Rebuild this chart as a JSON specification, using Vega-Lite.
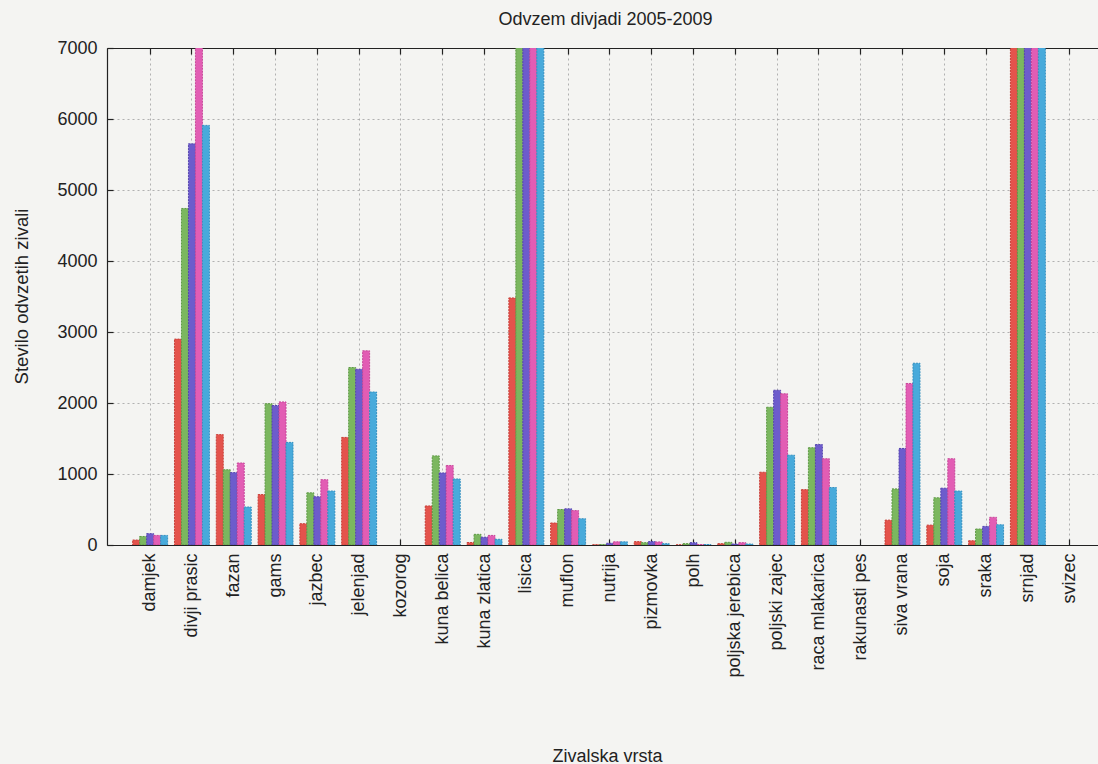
{
  "$schema": "https://vega.github.io/schema/vega-lite/v6.json",
  "width": 991,
  "height": 497,
  "autosize": {"type": "none"},
  "padding": {"left": 107, "top": 48, "right": 0, "bottom": 219},
  "background": "#f4f4f2",
  "title": {"text": "Odvzem divjadi 2005-2009", "fontSize": 18, "fontWeight": "normal", "font": "Liberation Sans", "color": "#222222", "offset": 10, "anchor": "middle", "dx": 3},
  "config": {
    "view": {"stroke": null},
    "font": "Liberation Sans"
  },
  "data": {
    "values": [
      {"vrsta": "damjek", "leto": "2005", "stevilo": 70},
      {"vrsta": "damjek", "leto": "2006", "stevilo": 120},
      {"vrsta": "damjek", "leto": "2007", "stevilo": 160},
      {"vrsta": "damjek", "leto": "2008", "stevilo": 135},
      {"vrsta": "damjek", "leto": "2009", "stevilo": 135},
      {"vrsta": "divji prasic", "leto": "2005", "stevilo": 2900},
      {"vrsta": "divji prasic", "leto": "2006", "stevilo": 4740},
      {"vrsta": "divji prasic", "leto": "2007", "stevilo": 5650},
      {"vrsta": "divji prasic", "leto": "2008", "stevilo": 7300},
      {"vrsta": "divji prasic", "leto": "2009", "stevilo": 5910},
      {"vrsta": "fazan", "leto": "2005", "stevilo": 1555},
      {"vrsta": "fazan", "leto": "2006", "stevilo": 1060},
      {"vrsta": "fazan", "leto": "2007", "stevilo": 1020},
      {"vrsta": "fazan", "leto": "2008", "stevilo": 1155},
      {"vrsta": "fazan", "leto": "2009", "stevilo": 535},
      {"vrsta": "gams", "leto": "2005", "stevilo": 710},
      {"vrsta": "gams", "leto": "2006", "stevilo": 1990},
      {"vrsta": "gams", "leto": "2007", "stevilo": 1965},
      {"vrsta": "gams", "leto": "2008", "stevilo": 2015},
      {"vrsta": "gams", "leto": "2009", "stevilo": 1445},
      {"vrsta": "jazbec", "leto": "2005", "stevilo": 300},
      {"vrsta": "jazbec", "leto": "2006", "stevilo": 735},
      {"vrsta": "jazbec", "leto": "2007", "stevilo": 680},
      {"vrsta": "jazbec", "leto": "2008", "stevilo": 920},
      {"vrsta": "jazbec", "leto": "2009", "stevilo": 760},
      {"vrsta": "jelenjad", "leto": "2005", "stevilo": 1515},
      {"vrsta": "jelenjad", "leto": "2006", "stevilo": 2500},
      {"vrsta": "jelenjad", "leto": "2007", "stevilo": 2475},
      {"vrsta": "jelenjad", "leto": "2008", "stevilo": 2735},
      {"vrsta": "jelenjad", "leto": "2009", "stevilo": 2155},
      {"vrsta": "kuna belica", "leto": "2005", "stevilo": 550},
      {"vrsta": "kuna belica", "leto": "2006", "stevilo": 1255},
      {"vrsta": "kuna belica", "leto": "2007", "stevilo": 1015},
      {"vrsta": "kuna belica", "leto": "2008", "stevilo": 1120},
      {"vrsta": "kuna belica", "leto": "2009", "stevilo": 930},
      {"vrsta": "kuna zlatica", "leto": "2005", "stevilo": 35},
      {"vrsta": "kuna zlatica", "leto": "2006", "stevilo": 150},
      {"vrsta": "kuna zlatica", "leto": "2007", "stevilo": 110},
      {"vrsta": "kuna zlatica", "leto": "2008", "stevilo": 135},
      {"vrsta": "kuna zlatica", "leto": "2009", "stevilo": 80},
      {"vrsta": "lisica", "leto": "2005", "stevilo": 3480},
      {"vrsta": "lisica", "leto": "2006", "stevilo": 7600},
      {"vrsta": "lisica", "leto": "2007", "stevilo": 8100},
      {"vrsta": "lisica", "leto": "2008", "stevilo": 8400},
      {"vrsta": "lisica", "leto": "2009", "stevilo": 8000},
      {"vrsta": "muflon", "leto": "2005", "stevilo": 310},
      {"vrsta": "muflon", "leto": "2006", "stevilo": 500},
      {"vrsta": "muflon", "leto": "2007", "stevilo": 510},
      {"vrsta": "muflon", "leto": "2008", "stevilo": 485},
      {"vrsta": "muflon", "leto": "2009", "stevilo": 370},
      {"vrsta": "nutrija", "leto": "2005", "stevilo": 3},
      {"vrsta": "nutrija", "leto": "2006", "stevilo": 5},
      {"vrsta": "nutrija", "leto": "2007", "stevilo": 25},
      {"vrsta": "nutrija", "leto": "2008", "stevilo": 45},
      {"vrsta": "nutrija", "leto": "2009", "stevilo": 45},
      {"vrsta": "pizmovka", "leto": "2005", "stevilo": 48},
      {"vrsta": "pizmovka", "leto": "2006", "stevilo": 33},
      {"vrsta": "pizmovka", "leto": "2007", "stevilo": 48},
      {"vrsta": "pizmovka", "leto": "2008", "stevilo": 43},
      {"vrsta": "pizmovka", "leto": "2009", "stevilo": 19},
      {"vrsta": "polh", "leto": "2005", "stevilo": 2},
      {"vrsta": "polh", "leto": "2006", "stevilo": 19},
      {"vrsta": "polh", "leto": "2007", "stevilo": 33},
      {"vrsta": "polh", "leto": "2008", "stevilo": 6},
      {"vrsta": "polh", "leto": "2009", "stevilo": 6},
      {"vrsta": "poljska jerebica", "leto": "2005", "stevilo": 19},
      {"vrsta": "poljska jerebica", "leto": "2006", "stevilo": 38},
      {"vrsta": "poljska jerebica", "leto": "2007", "stevilo": 14},
      {"vrsta": "poljska jerebica", "leto": "2008", "stevilo": 33},
      {"vrsta": "poljska jerebica", "leto": "2009", "stevilo": 14},
      {"vrsta": "poljski zajec", "leto": "2005", "stevilo": 1025},
      {"vrsta": "poljski zajec", "leto": "2006", "stevilo": 1940},
      {"vrsta": "poljski zajec", "leto": "2007", "stevilo": 2180},
      {"vrsta": "poljski zajec", "leto": "2008", "stevilo": 2130},
      {"vrsta": "poljski zajec", "leto": "2009", "stevilo": 1265},
      {"vrsta": "raca mlakarica", "leto": "2005", "stevilo": 780},
      {"vrsta": "raca mlakarica", "leto": "2006", "stevilo": 1370},
      {"vrsta": "raca mlakarica", "leto": "2007", "stevilo": 1415},
      {"vrsta": "raca mlakarica", "leto": "2008", "stevilo": 1215},
      {"vrsta": "raca mlakarica", "leto": "2009", "stevilo": 810},
      {"vrsta": "siva vrana", "leto": "2005", "stevilo": 350},
      {"vrsta": "siva vrana", "leto": "2006", "stevilo": 790},
      {"vrsta": "siva vrana", "leto": "2007", "stevilo": 1360},
      {"vrsta": "siva vrana", "leto": "2008", "stevilo": 2275},
      {"vrsta": "siva vrana", "leto": "2009", "stevilo": 2560},
      {"vrsta": "soja", "leto": "2005", "stevilo": 280},
      {"vrsta": "soja", "leto": "2006", "stevilo": 665},
      {"vrsta": "soja", "leto": "2007", "stevilo": 800},
      {"vrsta": "soja", "leto": "2008", "stevilo": 1215},
      {"vrsta": "soja", "leto": "2009", "stevilo": 760},
      {"vrsta": "sraka", "leto": "2005", "stevilo": 60},
      {"vrsta": "sraka", "leto": "2006", "stevilo": 225},
      {"vrsta": "sraka", "leto": "2007", "stevilo": 262},
      {"vrsta": "sraka", "leto": "2008", "stevilo": 390},
      {"vrsta": "sraka", "leto": "2009", "stevilo": 285},
      {"vrsta": "srnjad", "leto": "2005", "stevilo": 34000},
      {"vrsta": "srnjad", "leto": "2006", "stevilo": 35000},
      {"vrsta": "srnjad", "leto": "2007", "stevilo": 36000},
      {"vrsta": "srnjad", "leto": "2008", "stevilo": 37000},
      {"vrsta": "srnjad", "leto": "2009", "stevilo": 35500}
    ]
  },
  "layer": [
    {
      "mark": {"type": "bar", "clip": true, "strokeWidth": 1, "strokeDash": [2, 1]},
      "encoding": {
        "x": {
          "field": "vrsta", "type": "nominal", "sort": null,
          "scale": {"domain": ["damjek", "divji prasic", "fazan", "gams", "jazbec", "jelenjad", "kozorog", "kuna belica", "kuna zlatica", "lisica", "muflon", "nutrija", "pizmovka", "polh", "poljska jerebica", "poljski zajec", "raca mlakarica", "rakunasti pes", "siva vrana", "soja", "sraka", "srnjad", "svizec"], "paddingInner": 0, "paddingOuter": 0.355, "align": 0.75},
          "axis": {
            "orient": "bottom", "title": "Zivalska vrsta", "titleFontSize": 18, "titleFontWeight": "normal", "titleColor": "#222222",
            "titleX": 500, "titleY": 216, "titleBaseline": "alphabetic", "titleAlign": "center",
            "labelAngle": -90, "labelFontSize": 18, "labelColor": "#222222", "labelPadding": 14,
            "tickSize": -6, "tickColor": "#222222", "tickWidth": 1.2, "bandPosition": 0.5,
            "domainColor": "#222222", "domainWidth": 1.2,
            "grid": true, "gridColor": "#a0a0a0", "gridDash": [2, 3], "gridWidth": 0.8
          }
        },
        "xOffset": {"field": "leto", "type": "nominal", "scale": {"paddingInner": 0, "paddingOuter": 0.49}},
        "y": {
          "field": "stevilo", "type": "quantitative",
          "scale": {"domain": [0, 7000], "nice": false, "zero": true},
          "axis": {
            "title": "Stevilo odvzetih zivali", "titleFontSize": 18.5, "titleFontWeight": "normal", "titleColor": "#222222",
            "titleX": -86, "titleY": 248, "titleAngle": -90, "titleBaseline": "middle", "titleAlign": "center",
            "values": [0, 1000, 2000, 3000, 4000, 5000, 6000, 7000],
            "format": "d", "labelFontSize": 18, "labelColor": "#222222", "labelPadding": 16,
            "tickSize": -6, "tickColor": "#222222", "tickWidth": 1.2,
            "domainColor": "#222222", "domainWidth": 1.2,
            "grid": true, "gridColor": "#a0a0a0", "gridDash": [2, 3], "gridWidth": 0.8
          }
        },
        "fill": {
          "field": "leto", "type": "nominal",
          "scale": {"domain": ["2005", "2006", "2007", "2008", "2009"], "range": ["#e4534c", "#7bb75f", "#6d5ccc", "#e25db4", "#48aadb"]},
          "legend": null
        },
        "stroke": {
          "field": "leto", "type": "nominal",
          "scale": {"domain": ["2005", "2006", "2007", "2008", "2009"], "range": ["#c8403a", "#5e9a45", "#5646b0", "#c7479a", "#3590c0"]},
          "legend": null
        }
      }
    },
    {
      "mark": {"type": "bar", "opacity": 0},
      "encoding": {
        "x": {
          "field": "vrsta", "type": "nominal", "sort": null,
          "axis": {
            "orient": "top", "title": null, "labels": false,
            "tickSize": -6, "tickColor": "#222222", "tickWidth": 1.2, "bandPosition": 0.5,
            "domainColor": "#222222", "domainWidth": 1.2, "grid": false
          }
        }
      }
    }
  ],
  "resolve": {"axis": {"x": "independent", "y": "independent"}}
}
